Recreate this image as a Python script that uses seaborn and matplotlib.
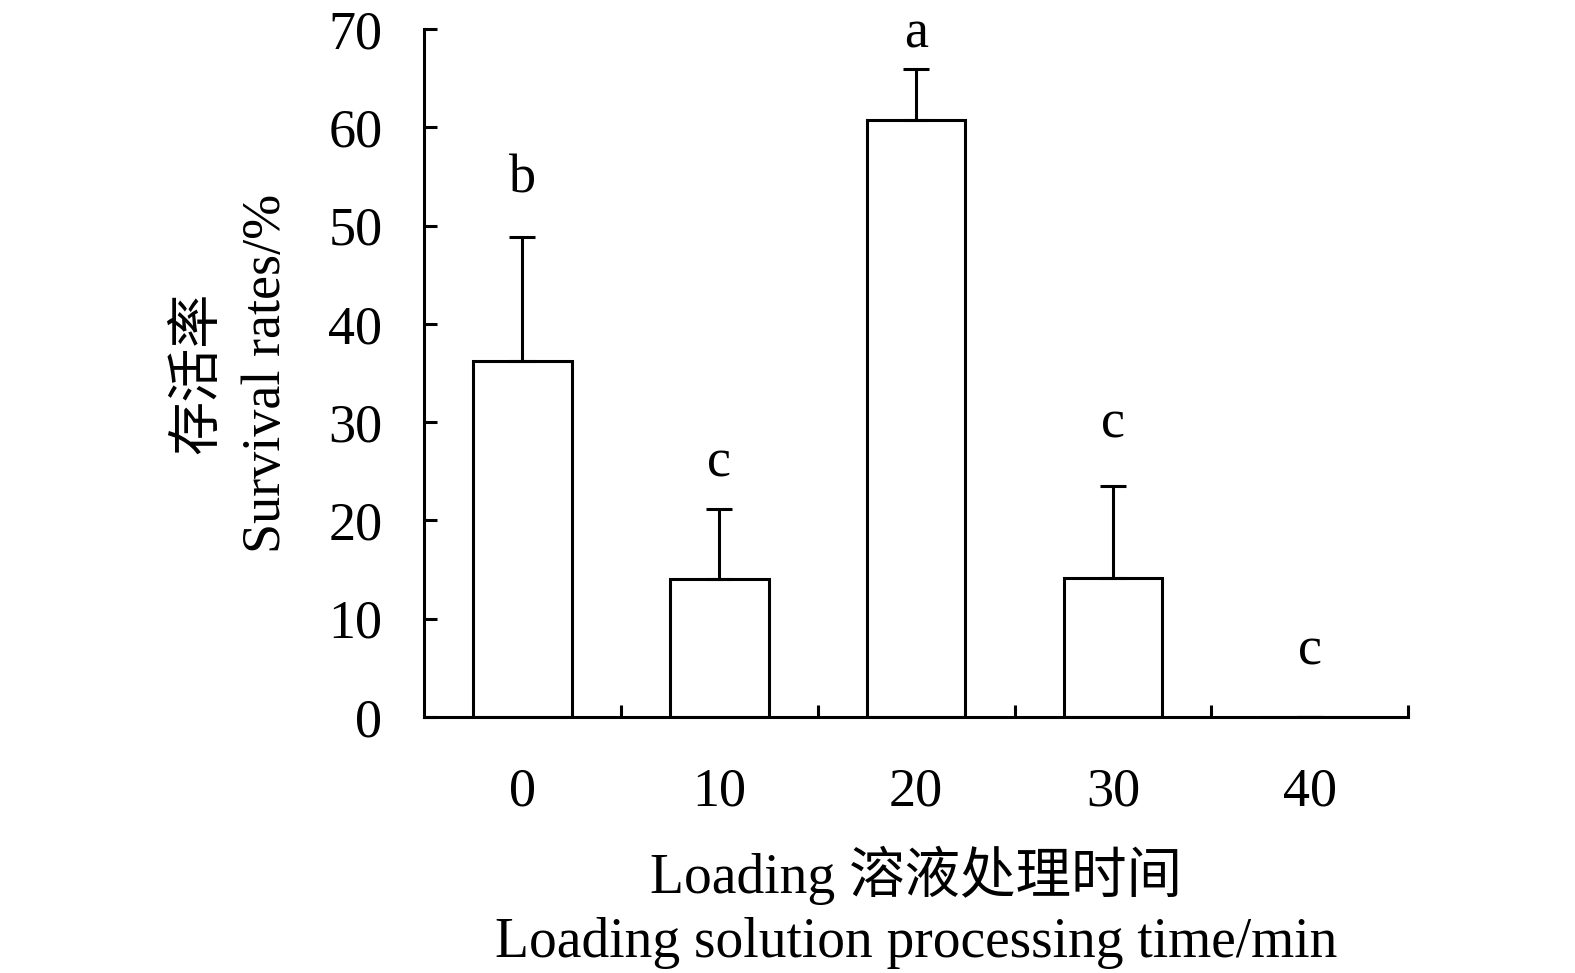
import numpy as np
import matplotlib
matplotlib.use("Agg")
import matplotlib.pyplot as plt
import seaborn as sns

# values
times = ["0", "10", "20", "30", "40"]
survival = [36.2, 14.0, 60.8, 14.1, 0.0]
sd = [12.6, 7.2, 5.1, 9.4, 0.0]
letters = ["b", "c", "a", "c", "c"]
letter_y = [53.4, 24.5, 68.1, 28.4, 5.3]
yticks = [0, 10, 20, 30, 40, 50, 60, 70]

sns.set_style("ticks")
plt.rcParams['font.family'] = ['Liberation Serif', 'Noto Sans CJK SC']
plt.rcParams['font.size'] = 39
for k in ["text.color", "axes.labelcolor", "xtick.color", "ytick.color", "axes.edgecolor"]:
    plt.rcParams[k] = "black"

lw = 2.2

fig = plt.figure(figsize=(15.75, 9.73), dpi=100)
ax = fig.add_axes([0.2692, 0.2631, 0.625, 0.707])

sns.barplot(x=times, y=survival, order=times, color="white", saturation=1,
            edgecolor="black", linewidth=lw, width=0.5, errorbar=None, ax=ax)

pos = np.arange(len(times))
ax.errorbar(pos, survival, yerr=[np.zeros(len(sd)), sd], fmt="none",
            ecolor="black", elinewidth=lw, capsize=9.7, capthick=lw, zorder=3)

for x, lab, y in zip(pos, letters, letter_y):
    ax.text(x, y, lab, ha="center", va="baseline", fontsize=39)

ax.set_xlim(-0.5, len(times) - 0.5)
ax.set_ylim(0, 70)
ax.set_yticks(yticks)

# tick marks sit between the categories, pointing inwards
ax.set_xticks(pos + 0.5, minor=True)
ax.tick_params(axis="x", which="major", length=0, pad=36, labelsize=39)
ax.tick_params(axis="x", which="minor", direction="in", length=9, width=lw)
ax.tick_params(axis="y", direction="in", length=9.5, width=lw, pad=30, labelsize=39)

sns.despine(ax=ax)
for s in ["left", "bottom"]:
    ax.spines[s].set_linewidth(lw)

ax.set_xlabel("Loading 溶液处理时间\nLoading solution processing time/min",
              fontsize=40, labelpad=20, linespacing=1.3)
ax.set_ylabel("存活率\nSurvival rates/%", fontsize=39, labelpad=26, linespacing=1.45)

fig.savefig("out.png", dpi=100)
